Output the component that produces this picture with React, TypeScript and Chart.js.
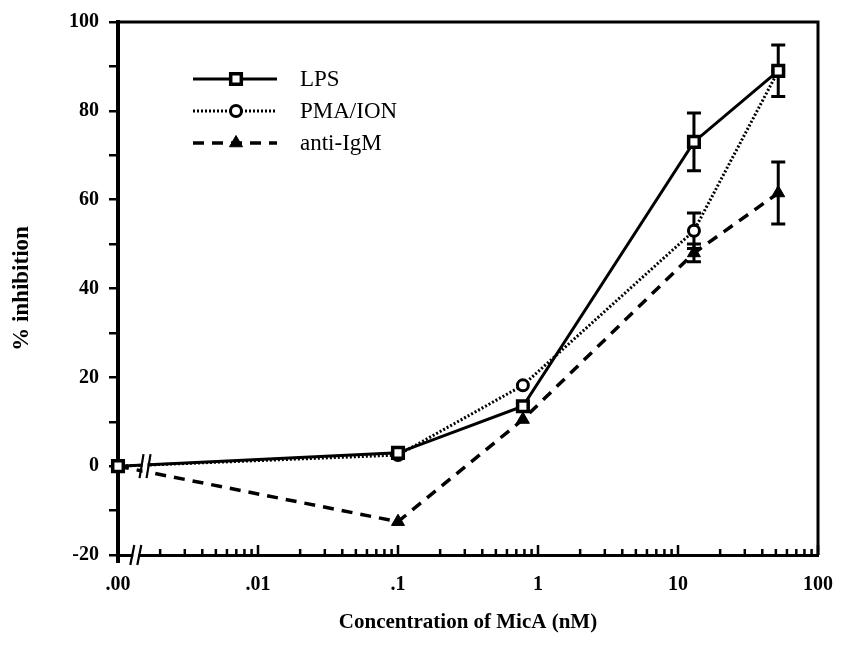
import React, { useEffect, useRef } from "react";
import { Chart, registerables } from "chart.js";

Chart.register(...registerables);

const FONT = "'Liberation Serif', 'Times New Roman', serif";

// ---- data ----
const concentrationsNM = [0.001, 0.1, 0.78, 13, 52];
const seriesLabels = ["LPS", "PMA/ION", "anti-IgM"];
const lpsValues = [0, 3, 13.5, 73, 89];
const lpsErrors = [0, 0, 0, 6.5, 5.8];
const pmaValues = [0, 2.5, 18.2, 53, 89];
const pmaErrors = [0, 0, 0, 4, 0];
const antiIgMValues = [0, -12.5, 10.5, 48, 61.5];
const antiIgMErrors = [0, 0, 0, 2, 7];

const xMajorTicks = [0.001, 0.01, 0.1, 1, 10, 100];
const xTickLabels = [".00", ".01", ".1", "1", "10", "100"];
const xMinorMultipliers = [2, 3, 4, 5, 6, 7, 8, 9];
const yLabeledTicks = [-20, 0, 20, 40, 60, 80, 100];
const xAxisTitle = "Concentration of MicA (nM)";
const yAxisTitle = "% inhibition";
const axisBreakValue = 0.00134;
const seriesBreakValue = 0.00156;

const allXTicks: number[] = [];
xMajorTicks.forEach((m, i) => {
  allXTicks.push(m);
  if (i < xMajorTicks.length - 1) xMinorMultipliers.forEach((k) => allXTicks.push(m * k));
});

function drawMarker(ctx: CanvasRenderingContext2D, style: string, x: number, y: number, r: number, fill: string, bw: number) {
  ctx.save();
  ctx.beginPath();
  if (style === "rect") {
    const s = r * Math.SQRT1_2;
    ctx.rect(x - s, y - s, 2 * s, 2 * s);
  } else if (style === "triangle") {
    ctx.moveTo(x, y - r);
    ctx.lineTo(x + r * Math.sin(Math.PI * 2 / 3), y - r * Math.cos(Math.PI * 2 / 3));
    ctx.lineTo(x - r * Math.sin(Math.PI * 2 / 3), y - r * Math.cos(Math.PI * 2 / 3));
    ctx.closePath();
  } else {
    ctx.arc(x, y, r, 0, Math.PI * 2);
  }
  ctx.fillStyle = fill;
  ctx.fill();
  ctx.lineWidth = bw;
  ctx.strokeStyle = "#000";
  ctx.setLineDash([]);
  ctx.stroke();
  ctx.restore();
}

const decorPlugin = {
  id: "decor",
  beforeDatasetsDraw(chart: any) {
    const ctx: CanvasRenderingContext2D = chart.ctx;
    const yScale = chart.scales.y;
    ctx.save();
    ctx.strokeStyle = "#000";
    ctx.lineWidth = 3;
    ctx.setLineDash([]);
    chart.data.datasets.forEach((ds: any, i: number) => {
      const meta = chart.getDatasetMeta(i);
      (ds.errors || []).forEach((e: number, j: number) => {
        if (!e) return;
        const pt = meta.data[j];
        const v = Number(ds.data[j].y);
        const yt = yScale.getPixelForValue(v + e);
        const yb = yScale.getPixelForValue(v - e);
        ctx.beginPath();
        ctx.moveTo(pt.x, yt);
        ctx.lineTo(pt.x, yb);
        ctx.moveTo(pt.x - 7, yt);
        ctx.lineTo(pt.x + 7, yt);
        ctx.moveTo(pt.x - 7, yb);
        ctx.lineTo(pt.x + 7, yb);
        ctx.stroke();
      });
    });
    ctx.restore();
  },
  afterDatasetsDraw(chart: any) {
    const ctx: CanvasRenderingContext2D = chart.ctx;
    const { left, right, top, bottom } = chart.chartArea;
    const xs = chart.scales.x;
    const ys = chart.scales.y;
    ctx.save();
    ctx.strokeStyle = "#000";
    ctx.setLineDash([]);
    ctx.lineCap = "butt";

    // frame top & right
    ctx.lineWidth = 3;
    ctx.beginPath();
    ctx.moveTo(left, top);
    ctx.lineTo(right + 1.5, top);
    ctx.moveTo(right, top);
    ctx.lineTo(right, bottom);
    ctx.stroke();
    // y axis extension below x axis
    ctx.lineWidth = 4;
    ctx.beginPath();
    ctx.moveTo(left, bottom);
    ctx.lineTo(left, bottom + 8);
    ctx.stroke();

    // inward x ticks
    ctx.lineWidth = 2.5;
    ctx.beginPath();
    allXTicks.forEach((v) => {
      const px = xs.getPixelForValue(v);
      const major = xMajorTicks.includes(v);
      ctx.moveTo(px, bottom);
      ctx.lineTo(px, bottom - (major ? 10 : 6));
    });
    ctx.stroke();

    // x-axis break
    const bx = xs.getPixelForValue(axisBreakValue);
    ctx.fillStyle = "#fff";
    ctx.fillRect(bx - 2.5, bottom - 3, 5, 6);
    ctx.lineWidth = 2.2;
    ctx.beginPath();
    [-3.5, 3.5].forEach((d) => {
      ctx.moveTo(bx + d + 2, bottom - 10);
      ctx.lineTo(bx + d - 2, bottom + 10);
    });
    ctx.stroke();

    // series break
    const sx = xs.getPixelForValue(seriesBreakValue);
    const sy = ys.getPixelForValue(0);
    ctx.fillStyle = "#fff";
    ctx.fillRect(sx - 2.5, sy - 10, 5, 22);
    ctx.beginPath();
    [-3.5, 3.5].forEach((d) => {
      ctx.moveTo(sx + d + 2, sy - 12);
      ctx.lineTo(sx + d - 2, sy + 12);
    });
    ctx.stroke();

    // legend
    const rowsY = [79, 111, 143];
    chart.data.datasets.forEach((ds: any, i: number) => {
      const y = rowsY[i];
      ctx.save();
      ctx.lineWidth = ds.borderWidth;
      ctx.setLineDash(ds.borderDash || []);
      ctx.strokeStyle = "#000";
      ctx.beginPath();
      ctx.moveTo(193, y);
      ctx.lineTo(277, y);
      ctx.stroke();
      ctx.restore();
      drawMarker(ctx, ds.pointStyle, 236, y, ds.pointRadius, ds.pointBackgroundColor, ds.pointBorderWidth);
      ctx.fillStyle = "#000";
      ctx.font = `23px ${FONT}`;
      ctx.textBaseline = "middle";
      ctx.textAlign = "left";
      ctx.fillText(ds.label, 300, y + 1);
    });
    ctx.restore();
  },
};

export default function App() {
  const ref = useRef<HTMLCanvasElement | null>(null);
  useEffect(() => {
    if (!ref.current) return;
    const mk = (v: number[]) => v.map((y, i) => ({ x: concentrationsNM[i], y }));
    const chart = new Chart(ref.current, {
      type: "line",
      data: {
        datasets: [
          {
            label: seriesLabels[0],
            data: mk(lpsValues) as any,
            errors: lpsErrors,
            borderColor: "#000",
            borderWidth: 3,
            borderDash: [],
            pointStyle: "rect",
            pointRadius: 7.5,
            pointBackgroundColor: "#fff",
            pointBorderColor: "#000",
            pointBorderWidth: 3.5,
            clip: false,
          } as any,
          {
            label: seriesLabels[1],
            data: mk(pmaValues) as any,
            errors: pmaErrors,
            borderColor: "#000",
            borderWidth: 3,
            borderDash: [2, 2],
            pointStyle: "circle",
            pointRadius: 5.5,
            pointBackgroundColor: "#fff",
            pointBorderColor: "#000",
            pointBorderWidth: 3,
            clip: false,
          } as any,
          {
            label: seriesLabels[2],
            data: mk(antiIgMValues) as any,
            errors: antiIgMErrors,
            borderColor: "#000",
            borderWidth: 3.5,
            borderDash: [11, 8],
            pointStyle: "triangle",
            pointRadius: 7.5,
            pointBackgroundColor: "#000",
            pointBorderColor: "#000",
            pointBorderWidth: 1,
            clip: false,
          } as any,
        ],
      },
      options: {
        animation: false,
        responsive: true,
        maintainAspectRatio: false,
        layout: { padding: { top: 20, right: 21, left: 0, bottom: 0 } },
        plugins: { legend: { display: false }, tooltip: { enabled: false } },
        elements: { line: { tension: 0 } },
        scales: {
          x: {
            type: "logarithmic",
            min: 0.001,
            max: 100,
            afterBuildTicks: (scale: any) => {
              scale.ticks = allXTicks.map((v) => ({ value: v, major: xMajorTicks.includes(v) }));
            },
            afterFit: (scale: any) => {
              scale.height = 96;
            },
            grid: { display: false },
            border: { display: true, color: "#000", width: 3 },
            ticks: {
              autoSkip: false,
              maxRotation: 0,
              padding: 10,
              color: "#000",
              font: { family: FONT, size: 20, weight: "bold" },
              callback: (v: any) => {
                const idx = xMajorTicks.findIndex((m) => Math.abs(m - Number(v)) / m < 1e-6);
                return idx >= 0 ? xTickLabels[idx] : "";
              },
            },
            title: {
              display: true,
              text: xAxisTitle,
              color: "#000",
              font: { family: FONT, size: 21, weight: "bold" },
              padding: { top: 0, bottom: 16 },
            },
          },
          y: {
            type: "linear",
            min: -20,
            max: 100,
            afterFit: (scale: any) => {
              scale.width = 118;
            },
            grid: {
              display: true,
              drawOnChartArea: false,
              drawTicks: true,
              tickLength: 9,
              color: "#000",
              lineWidth: 2.5,
            },
            border: { display: true, color: "#000", width: 4 },
            ticks: {
              stepSize: 10,
              padding: 10,
              color: "#000",
              font: { family: FONT, size: 20, weight: "bold" },
              callback: (v: any) => (yLabeledTicks.includes(Number(v)) ? String(v) : ""),
            },
            title: {
              display: true,
              text: yAxisTitle,
              color: "#000",
              font: { family: FONT, size: 23, weight: "bold" },
              padding: { top: 8, bottom: 0 },
            },
          },
        },
      } as any,
      plugins: [decorPlugin],
    });
    return () => chart.destroy();
  }, []);
  return (
    <div style={{ position: "fixed", left: 0, top: 0, width: 843, height: 651, background: "#fff" }}>
      <canvas ref={ref} />
    </div>
  );
}
